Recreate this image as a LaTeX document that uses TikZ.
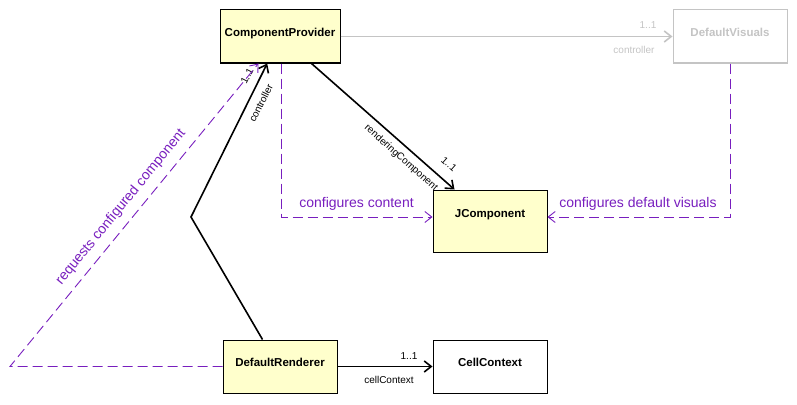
\documentclass[tikz,border=0pt]{standalone}
\usepackage{fontspec}
\setmainfont{Liberation Sans}
\usetikzlibrary{calc,arrows.meta}
\definecolor{clsfill}{RGB}{255,255,204}
\definecolor{dep}{RGB}{120,30,190}
\definecolor{ghost}{RGB}{196,196,196}
\tikzset{
  cls/.style={draw=black, line width=1pt, fill=clsfill, font=\bfseries\fontsize{11.5}{12}\selectfont,
    minimum width=114pt, minimum height=53pt, inner sep=0pt, text height=10pt, text depth=10pt},
  assoc/.style={draw=black, line width=1.6pt, -{Straight Barb[length=7pt,width=11pt,line width=1.6pt]}},
  depend/.style={draw=dep, line width=0.9pt, dash pattern=on 10pt off 5pt, -{Straight Barb[length=7pt,width=11pt,line width=0.9pt]}},
  small/.style={font=\fontsize{10}{11}\selectfont, inner sep=0pt},
  deplabel/.style={text=dep, font=\fontsize{14}{15}\selectfont, inner sep=0pt},
}
\begin{document}
\begin{tikzpicture}[x=1pt,y=-1pt]
\useasboundingbox (0,0) rectangle (797,404);
% classes
\node[cls, minimum width=120pt] (CP) at (280,36.5) {ComponentProvider};
\node[cls, draw=ghost, fill=white, text=ghost] (DV) at (730,36.5) {DefaultVisuals};
\node[cls, minimum height=62pt, text depth=18pt] (JC) at (490,221) {JComponent};
\node[cls] (DR) at (280,366.5) {DefaultRenderer};
\node[cls, fill=white] (CC) at (490,366.5) {CellContext};
% bend points
\coordinate (bendR) at (191,217);
\coordinate (cornerL) at (10,366.5);
% CP -> DV (gray)
\draw[assoc, draw=ghost, -{Straight Barb[length=7pt,width=11pt,line width=1.6pt,color=ghost]}] (CP.east) -- (DV.west);
\node[small, text=ghost] (m1) at (648,25) {1..1};
\node[small, text=ghost] (r1) at (634,50) {controller};
% CP -> JC
\draw[assoc] ($(CP.south west)+(92,0)$) -- ($(JC.north west)+(22,0)$);
\node[small, rotate=-41.6] (r2) at (401,158) {renderingComponent};
\node[small, rotate=-41.6] (m2) at (449,164) {1..1};
% DR -> CP
\draw[assoc] ($(DR.north west)+(40,0)$) -- (bendR) -- ($(CP.south west)+(47.7,0)$);
\node[small, rotate=63.4] (r3) at (261,103) {controller};
\node[small, rotate=63.4] (m3) at (247,76) {1..1};
% DR -> CC
\draw[assoc] (DR.east) -- (CC.west);
\node[small] (m4) at (409,356) {1..1};
\node[small] (r4) at (389,380) {cellContext};
% dependencies
\draw[depend] ($(CP.south)+(1,0)$) |- ($(JC.west)+(0,-4)$);
\node[deplabel] (l1) at (356.5,204) {configures content};
\draw[depend] (DV.south) |- ($(JC.east)+(0,-4)$);
\node[deplabel] (l2) at (638,204) {configures default visuals};
\draw[depend] (DR.west) -- (cornerL) -- ($(CP.south west)+(39,0)$);
\node[deplabel, rotate=50.7] (l3) at (121,207) {requests configured component};
\end{tikzpicture}
\end{document}
